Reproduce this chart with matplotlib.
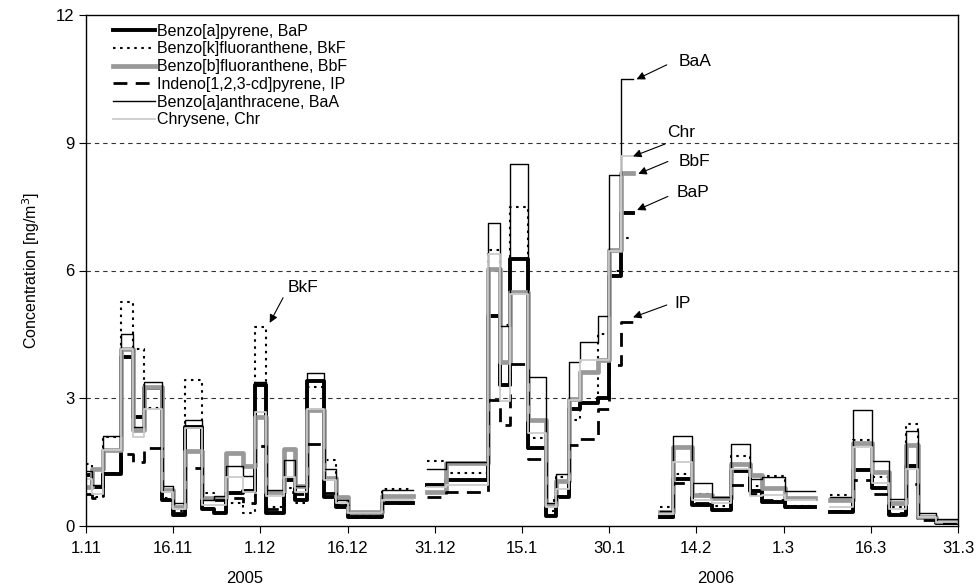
import numpy as np
import matplotlib
matplotlib.use("Agg")
import matplotlib.pyplot as plt

plt.rcParams['font.family'] = ['Liberation Sans', 'DejaVu Sans']

nan = np.nan
# sample start days (days after 1 Nov 2005); nan values mark gaps
start_day = [0, 1, 3, 6, 8, 10, 13, 15, 17, 20, 22, 24, 27, 29, 31, 34, 36, 38, 41, 43, 45, 51, 56.3,
             58.7, 62, 69.2, 71.2, 73, 76.1, 79.1, 80.9, 83, 85, 88, 90, 92, 94.1,
             98.7, 101, 104.2, 107.7, 111, 114.2, 116.2, 120.2, 125.4,
             127.9, 132, 135.2, 138.2, 141.1, 143.2, 146.2]
end_day = 150

BaP = [1.2, 0.92, 1.22, 3.96, 2.57, 3.25, 0.6, 0.25, 2.33, 0.4, 0.3, 0.77, 0.82, 3.3, 0.3, 1.08, 0.6, 3.4, 0.69, 0.45, 0.22, 0.55, nan,
       0.97, 1.08, 4.93, 3.31, 6.28, 1.83, 0.24, 0.67, 2.75, 2.88, 3.0, 5.86, 7.36, nan,
       0.2, 1.1, 0.5, 0.37, 1.3, 0.82, 0.57, 0.44, nan,
       0.34, 1.32, 0.89, 0.26, 1.4, 0.18, 0.06]
BkF = [1.45, 0.67, 2.08, 5.25, 4.15, 2.78, 0.65, 0.35, 3.43, 0.78, 0.65, 0.54, 0.3, 4.68, 0.45, 0.9, 0.55, 3.27, 1.55, 0.5, 0.24, 0.88, nan,
       1.53, 1.25, 6.48, 4.72, 7.48, 2.06, 0.35, 1.14, 2.48, 2.9, 4.5, 6.0, 6.77, nan,
       0.45, 1.22, 0.76, 0.46, 1.65, 0.95, 1.17, 0.48, nan,
       0.73, 2.02, 1.15, 0.45, 2.4, 0.22, 0.1]
BbF = [0.92, 1.33, 1.79, 4.15, 2.25, 3.27, 0.85, 0.45, 1.75, 0.65, 0.65, 1.72, 1.4, 2.55, 0.8, 1.8, 0.93, 2.73, 1.12, 0.67, 0.34, 0.7, nan,
       0.81, 1.48, 6.04, 3.86, 5.5, 2.5, 0.49, 1.06, 2.99, 3.62, 3.9, 6.48, 8.29, nan,
       0.32, 1.85, 0.73, 0.65, 1.45, 1.2, 0.9, 0.65, nan,
       0.6, 1.94, 1.26, 0.53, 1.9, 0.22, 0.12]
IP = [0.75, 0.65, 1.24, 1.7, 1.51, 1.83, 0.6, 0.3, 1.37, 0.42, 0.6, 0.65, 0.55, 1.87, 0.4, 0.8, 0.75, 1.93, 0.77, 0.5, 0.22, 0.55, nan,
      0.69, 0.81, 2.96, 2.37, 3.8, 1.57, 0.62, 0.7, 1.9, 2.05, 2.75, 3.78, 4.78, nan,
      0.2, 1.0, 0.55, 0.38, 0.97, 0.75, 0.6, 0.45, nan,
      0.35, 1.08, 0.75, 0.3, 0.99, 0.15, 0.07]
BaA = [1.3, 0.96, 2.11, 4.52, 2.33, 3.39, 0.95, 0.55, 2.48, 0.6, 0.71, 1.4, 1.17, 3.38, 0.85, 1.54, 0.93, 3.59, 1.35, 0.62, 0.3, 0.85, nan,
       1.35, 1.5, 7.12, 4.7, 8.5, 3.51, 0.53, 1.21, 3.86, 4.33, 4.92, 8.25, 10.5, nan,
       0.35, 2.12, 1.01, 0.68, 1.93, 1.1, 1.14, 0.83, nan,
       0.68, 2.72, 1.53, 0.63, 2.24, 0.3, 0.17]
Chr = [1.1, 0.75, 1.79, 4.15, 2.08, 2.74, 0.8, 0.4, 2.3, 0.5, 0.5, 1.14, 0.8, 2.68, 0.7, 1.16, 0.8, 2.75, 1.08, 0.55, 0.3, 0.61, nan,
       0.91, 0.96, 6.38, 2.94, 5.45, 2.18, 0.45, 0.87, 2.95, 3.9, 3.9, 6.45, 8.69, nan,
       0.28, 1.5, 0.6, 0.55, 1.35, 0.7, 0.73, 0.6, nan,
       0.45, 1.86, 1.02, 0.4, 1.33, 0.22, 0.1]

series_labels = ["Benzo[a]pyrene, BaP", "Benzo[k]fluoranthene, BkF", "Benzo[b]fluoranthene, BbF",
                 "Indeno[1,2,3-cd]pyrene, IP", "Benzo[a]anthracene, BaA", "Chrysene, Chr"]
tick_days = [0, 15, 30, 45, 60, 75, 90, 105, 120, 135, 150]
tick_labels = ["1.11", "16.11", "1.12", "16.12", "31.12", "15.1", "30.1", "14.2", "1.3", "16.3", "31.3"]
years = ["2005", "2006"]
year_pos = [27.3, 108.3]

# annotations: label, text position, arrow tail, arrow tip
annots = [("BkF", (37.3, 5.61), (33.9, 5.36), (31.6, 4.77)),
          ("BaA", (104.7, 10.9), (99.9, 10.83), (94.7, 10.49)),
          ("Chr", (102.4, 9.24), (99.6, 8.97), (94.1, 8.68)),
          ("BbF", (104.7, 8.56), (100.1, 8.56), (95.0, 8.27)),
          ("BaP", (104.4, 7.82), (100.1, 7.74), (94.8, 7.42)),
          ("IP", (102.6, 5.23), (99.9, 5.19), (94.1, 4.90))]

fig = plt.figure(figsize=(9.76, 5.88), dpi=100)
ax = fig.add_axes([86/976, 1-526/588, (958-86)/976, (526-15)/588])

for yv in [3, 6, 9]:
    ax.axhline(yv, color='#333333', lw=0.8, ls=(0, (4, 3.5)), zorder=0)

xs = np.array(start_day + [end_day], dtype=float)
styles = [
    (BaP, dict(color='black', lw=2.8)),
    (BkF, dict(color='black', lw=1.5, ls=(0, (1.2, 2.2)))),
    (BbF, dict(color='#999999', lw=3.4)),
    (IP, dict(color='black', lw=2.0, ls=(0, (5, 3)))),
    (BaA, dict(color='black', lw=1.0)),
    (Chr, dict(color='#cccccc', lw=1.3)),
]
for (vals, st), lab in zip(styles, series_labels):
    ys = np.array(vals + [vals[-1]], dtype=float)
    ax.step(xs, ys, where='post', label=lab, **st)

ax.set_xlim(0, 150)
ax.set_ylim(0, 12)
ax.set_yticks([0, 3, 6, 9, 12])
ax.set_xticks(tick_days)
ax.set_xticklabels(tick_labels)
ax.tick_params(labelsize=12, length=5, width=0.8, direction='out')
ax.tick_params(axis='x', pad=6)
for s in ax.spines.values():
    s.set_linewidth(1.0)
ax.set_ylabel("Concentration [ng/m$^3$]", fontsize=11.5, labelpad=10)

for yr, xp in zip(years, year_pos):
    ax.text(xp, -0.102, yr, transform=ax.get_xaxis_transform(), ha='center', va='center', fontsize=12)

for lab, tp, tail, tip in annots:
    ax.text(tp[0], tp[1], lab, ha='center', va='center', fontsize=12.5)
    ax.annotate('', xy=tip, xytext=tail,
                arrowprops=dict(arrowstyle='-|>', color='black', lw=0.8, mutation_scale=12, shrinkA=0, shrinkB=0))

leg = ax.legend(loc='upper left', bbox_to_anchor=(27/872, 0.983), frameon=False, fontsize=11.5,
                handlelength=2.63, handletextpad=0.12, labelspacing=0.17, borderaxespad=0, borderpad=0)

fig.savefig("out.png", dpi=100)
